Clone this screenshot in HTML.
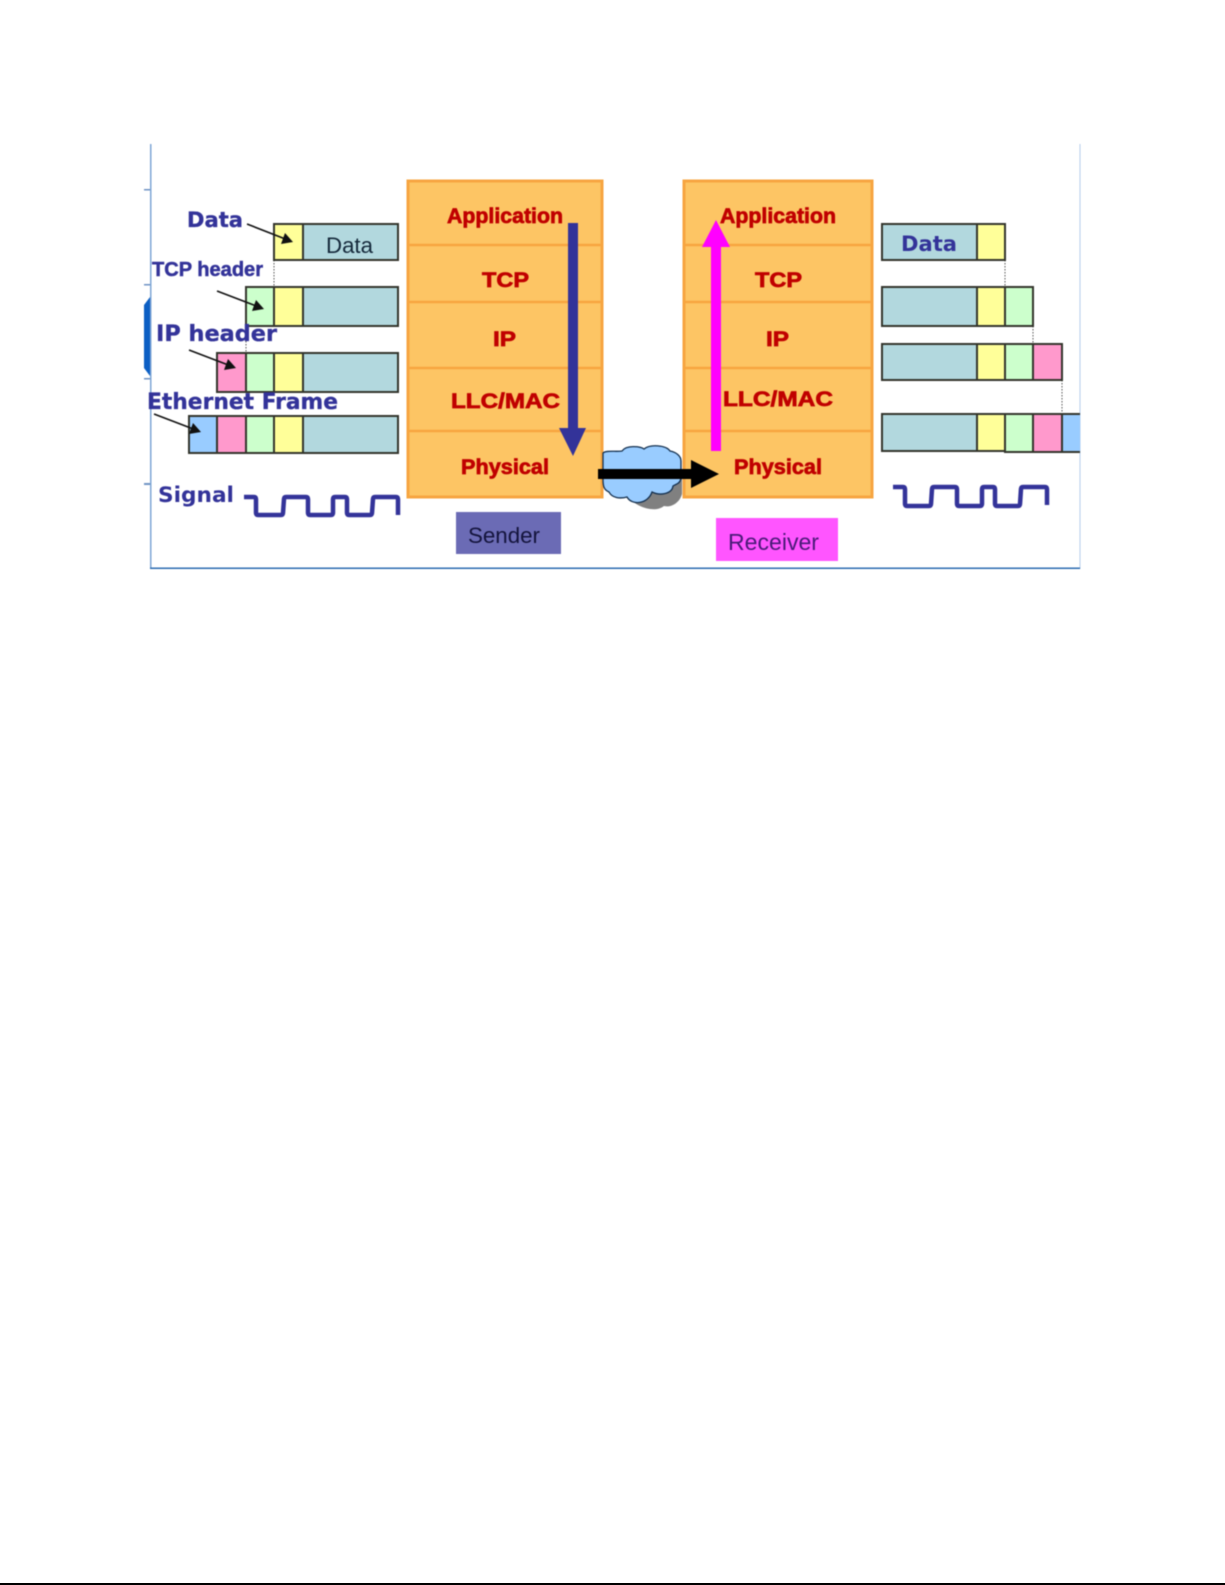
<!DOCTYPE html>
<html><head><meta charset="utf-8"><style>html,body{margin:0;padding:0;background:#fff}svg{display:block}
.s{font-family:"Liberation Sans",sans-serif;font-weight:bold;fill:#c00000;stroke:#c00000;stroke-width:.7px}
.d{font-family:"DejaVu Sans",sans-serif;font-weight:bold;fill:#333399}
.b{stroke:#33352c;stroke-width:2}
</style></head><body>
<svg width="1225" height="1585" viewBox="0 0 1225 1585" xmlns="http://www.w3.org/2000/svg">
<rect width="1225" height="1585" fill="#fff"/>
<rect x="0" y="1583" width="1225" height="2" fill="#000"/>
<g style="filter:blur(.6px)">
<!-- frame -->
<polygon points="144,305 150,297 150,376 144,368" fill="#0c5fc4"/>
<g fill="#6f93c4"><rect x="144" y="189" width="6" height="1.5"/><rect x="144" y="284" width="6" height="1.5"/><rect x="144" y="378" width="6" height="1.5"/><rect x="144" y="483" width="6" height="2"/></g>
<rect x="150" y="144" width="1.5" height="425" fill="#7ea6d6"/>
<rect x="1079.5" y="144" width="1" height="425" fill="#b5cdec"/>
<rect x="150" y="567.5" width="930" height="1.5" fill="#2a6ab0"/>

<!-- dotted -->
<g stroke="#555" stroke-width="1" stroke-dasharray="1.5 1.5" fill="none">
<path d="M274 260V287M246 326V353M1005 260V287M1033 326V344M1062 380V414"/>
</g>

<!-- left rows -->
<g class="b">
<rect x="274" y="224" width="29" height="36" fill="#ffff99"/><rect x="303" y="224" width="95" height="36" fill="#b2d8de"/>
<rect x="246" y="287" width="28" height="39" fill="#ccffcc"/><rect x="274" y="287" width="29" height="39" fill="#ffff99"/><rect x="303" y="287" width="95" height="39" fill="#b2d8de"/>
<rect x="217" y="353" width="29" height="39" fill="#ff99cc"/><rect x="246" y="353" width="28" height="39" fill="#ccffcc"/><rect x="274" y="353" width="29" height="39" fill="#ffff99"/><rect x="303" y="353" width="95" height="39" fill="#b2d8de"/>
<rect x="189" y="416" width="28" height="37" fill="#99ccff"/><rect x="217" y="416" width="29" height="37" fill="#ff99cc"/><rect x="246" y="416" width="28" height="37" fill="#ccffcc"/><rect x="274" y="416" width="29" height="37" fill="#ffff99"/><rect x="303" y="416" width="95" height="37" fill="#b2d8de"/>
</g>

<!-- right rows -->
<g class="b">
<rect x="882" y="224" width="95" height="36" fill="#b2d8de"/><rect x="977" y="224" width="28" height="36" fill="#ffff99"/>
<rect x="882" y="287" width="95" height="39" fill="#b2d8de"/><rect x="977" y="287" width="28" height="39" fill="#ffff99"/><rect x="1005" y="287" width="28" height="39" fill="#ccffcc"/>
<rect x="882" y="344" width="95" height="36" fill="#b2d8de"/><rect x="977" y="344" width="28" height="36" fill="#ffff99"/><rect x="1005" y="344" width="28" height="36" fill="#ccffcc"/><rect x="1033" y="344" width="29" height="36" fill="#ff99cc"/>
<rect x="882" y="414" width="95" height="37" fill="#b2d8de"/><rect x="977" y="414" width="28" height="37" fill="#ffff99"/><rect x="1005" y="414" width="28" height="38" fill="#ccffcc"/><rect x="1033" y="414" width="29" height="38" fill="#ff99cc"/>
</g>
<path d="M1062 414H1080V452H1062Z" fill="#99ccff"/>
<path d="M1080 414H1062V452H1080" fill="none" stroke="#33352c" stroke-width="2"/>

<!-- stacks -->
<g fill="#fdc564" stroke="#f7a540" stroke-width="3">
<rect x="408" y="181" width="194" height="316"/>
<rect x="684" y="181" width="188" height="316"/>
<path d="M408 245H602M408 302H602M408 368H602M408 431H602M684 245H872M684 302H872M684 368H872M684 431H872" fill="none" stroke-width="2.5"/>
</g>

<!-- stack labels -->
<g class="s" font-size="21">
<text x="447" y="223" textLength="116" lengthAdjust="spacingAndGlyphs">Application</text>
<text x="482" y="287" textLength="47" lengthAdjust="spacingAndGlyphs">TCP</text>
<text x="493" y="346" textLength="23" lengthAdjust="spacingAndGlyphs">IP</text>
<text x="451" y="408" textLength="109" lengthAdjust="spacingAndGlyphs">LLC/MAC</text>
<text x="461" y="474" textLength="88" lengthAdjust="spacingAndGlyphs">Physical</text>
<text x="720" y="223" textLength="116" lengthAdjust="spacingAndGlyphs">Application</text>
<text x="755" y="287" textLength="47" lengthAdjust="spacingAndGlyphs">TCP</text>
<text x="766" y="346" textLength="23" lengthAdjust="spacingAndGlyphs">IP</text>
<text x="723" y="406" textLength="110" lengthAdjust="spacingAndGlyphs">LLC/MAC</text>
<text x="734" y="474" textLength="88" lengthAdjust="spacingAndGlyphs">Physical</text>
</g>

<!-- arrows in stacks -->
<polygon points="568,223 578,223 578,428 586,428 573,456 559,428 568,428" fill="#333399"/>
<polygon points="711,451 721,451 721,247 730,247 716,220 702,247 711,247" fill="#ff00ff"/>

<!-- cloud -->
<path d="M606 490 C612 498 622 496 628 496 C634 506 654 514 664 506 C672 508 680 502 682 494 L682 476 L650 470 L606 476Z" fill="#808080"/>
<path d="M603 453 C606 450 616 452 622 451 C626 445 640 446 644 449 C650 444 666 445 670 451 C676 452 681 456 681 461 L681 478 C680 484 676 484 673 486 C672 494 660 496 652 492 C648 504 632 506 627 497 C620 499 612 498 609 492 C604 490 603 486 603 480Z" fill="#99ccff" stroke="#14304f" stroke-width="1.3"/>
<polygon points="598,469 691,469 691,460 719,474 691,488 691,479 598,479" fill="#000"/>

<!-- left labels -->
<text class="d" x="187" y="227" font-size="21" stroke="#333399" stroke-width=".3" textLength="56" lengthAdjust="spacingAndGlyphs">Data</text>
<text x="152" y="276" font-family="'Liberation Sans',sans-serif" font-weight="bold" font-size="20" fill="#333399" stroke="#333399" stroke-width=".5" textLength="111" lengthAdjust="spacingAndGlyphs">TCP header</text>
<text class="d" x="156" y="341" font-size="22" stroke="#333399" stroke-width=".3" textLength="121" lengthAdjust="spacingAndGlyphs">IP header</text>
<text class="d" x="147" y="409" font-size="22" stroke="#333399" stroke-width=".3" textLength="191" lengthAdjust="spacingAndGlyphs">Ethernet Frame</text>
<text class="d" x="158" y="502" font-size="21" textLength="76" lengthAdjust="spacingAndGlyphs">Signal</text>
<text x="326" y="253" font-family="'Liberation Sans',sans-serif" font-size="22" fill="#14283a" textLength="47" lengthAdjust="spacingAndGlyphs">Data</text>
<text class="d" x="901" y="251" font-size="21" fill="#2a3a8c" textLength="56" lengthAdjust="spacingAndGlyphs">Data</text>

<!-- small arrows -->
<g stroke="#111" stroke-width="1.6" fill="#111">
<path d="M247 224L284 238.5" fill="none"/><polygon stroke="none" points="293,242 281,244 285,233"/>
<path d="M217 291L255 305.5" fill="none"/><polygon stroke="none" points="264,309 252,311 256,300"/>
<path d="M189 350L227 364.5" fill="none"/><polygon stroke="none" points="236,368 224,370 228,359"/>
<path d="M154 414L192 428.5" fill="none"/><polygon stroke="none" points="201,432 189,434 193,423"/>
</g>

<!-- signals -->
<g fill="none" stroke="#333399" stroke-width="4.5" stroke-linejoin="round">
<path d="M244 497H254Q256 497 256 499V513Q256 515 258 515H281Q283 515 283 513L284 499Q284 497 286 497H306Q308 497 308 499V513Q308 515 310 515H331Q333 515 333 513V499Q333 497 335 497H345Q347 497 347 499V513Q347 515 349 515H370Q372 515 372 513L373 499Q373 497 375 497H396Q398 497 398 499V515"/>
<path d="M893 487H903Q905 487 905 489V504Q905 506 907 506H929Q931 506 931 504L932 489Q932 487 934 487H955Q957 487 957 489V504Q957 506 959 506H980Q982 506 982 504V489Q982 487 984 487H993Q995 487 995 489V504Q995 506 997 506H1018Q1020 506 1020 504L1021 489Q1021 487 1023 487H1045Q1047 487 1047 489V505"/>
</g>

<!-- boxes -->
<rect x="456" y="512" width="105" height="42" fill="#6b6bb5"/>
<text x="468" y="543" font-family="'Liberation Sans',sans-serif" font-size="22" fill="#14143c" textLength="72" lengthAdjust="spacingAndGlyphs">Sender</text>
<rect x="716" y="518" width="122" height="43" fill="#ff55ff"/>
<text x="728" y="550" font-family="'Liberation Sans',sans-serif" font-size="23" fill="#4a1a78" textLength="91" lengthAdjust="spacingAndGlyphs">Receiver</text>
</g>
</svg>
</body></html>
